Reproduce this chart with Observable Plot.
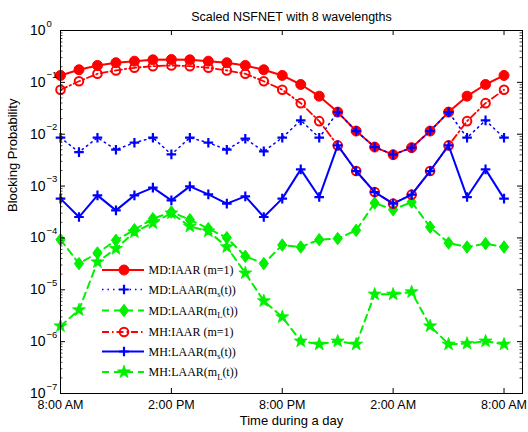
<!DOCTYPE html>
<html>
<head>
<meta charset="utf-8">
<script src="https://cdn.jsdelivr.net/npm/d3@7"></script>
<script src="https://cdn.jsdelivr.net/npm/@observablehq/plot@0.6"></script>
<style>
  html, body { margin: 0; padding: 0; background: #fff; }
  svg { font-family: "Liberation Sans", Arial, sans-serif; }
</style>
</head>
<body>
<div id="chart"></div>
<script>
// ---- data ----
const hours = [0,1,2,3,4,5,6,7,8,9,10,11,12,13,14,15,16,17,18,19,20,21,22,23,24];
const xTicks = [0, 6, 12, 18, 24];
const xTickLabels = ["8:00 AM", "2:00 PM", "8:00 PM", "2:00 AM", "8:00 AM"];
const yMajor = [1e-7, 1e-6, 1e-5, 1e-4, 1e-3, 1e-2, 1e-1, 1];
const yExponents = ["\u22127", "\u22126", "\u22125", "\u22124", "\u22123", "\u22122", "\u22121", "0"];

const mdIAAR   = [0.136,0.175,0.212,0.239,0.256,0.272,0.276,0.272,0.256,0.239,0.212,0.175,0.136,0.091,0.0542,0.0267,0.0115,0.00565,0.00403,0.0055,0.0115,0.0267,0.0542,0.091,0.136];
const mdLAARms = [0.00857,0.00452,0.00857,0.00503,0.00686,0.00857,0.00408,0.00857,0.00686,0.00503,0.00819,0.00466,0.00857,0.01845,0.00857,0.0267,0.0115,0.00565,0.00403,0.0055,0.0115,0.0267,0.00857,0.01845,0.00857];
const mdLAARmL = [9.27e-5,3.2e-5,5.12e-5,8.99e-5,1.44e-4,2.35e-4,3.16e-4,2.25e-4,1.51e-4,1.01e-4,4.42e-5,3.2e-5,7.3e-5,6.68e-5,9.27e-5,9.7e-5,1.4e-4,4.7e-4,3.5e-4,4.92e-4,1.62e-4,7.98e-5,6.68e-5,7.76e-5,6.68e-5];
const mhIAAR   = [0.072,0.105,0.1465,0.170,0.191,0.205,0.212,0.205,0.191,0.170,0.1465,0.105,0.072,0.0397,0.01787,0.00608,0.00195,0.000766,0.000458,0.000683,0.00195,0.00608,0.01787,0.0397,0.072];
const mhLAARms = [0.000572,0.000253,0.000662,0.00034,0.000662,0.000932,0.00053,0.000987,0.000692,0.000458,0.000634,0.000253,0.000572,0.0021,0.000614,0.00608,0.00195,0.000766,0.000458,0.000683,0.00195,0.00608,0.000614,0.0021,0.000572];
const mhLAARmL = [2.0e-6,4.08e-6,3.43e-5,6.2e-5,1.3e-4,1.94e-4,3.0e-4,1.67e-4,1.35e-4,6.7e-5,2.1e-5,6.1e-6,2.99e-6,1.02e-6,8.9e-7,1.02e-6,8.9e-7,8.2e-6,8.2e-6,9.08e-6,2.0e-6,8.9e-7,9.2e-7,1.02e-6,8.9e-7];

// ---- symbols ----
const rOf = (size) => Math.sqrt(size / Math.PI);
const circleSym = { draw(c, size) { const r = rOf(size); c.moveTo(r, 0); c.arc(0, 0, r, 0, 2 * Math.PI); } };
const plusSym = { draw(c, size) { const r = rOf(size); c.moveTo(-r, 0); c.lineTo(r, 0); c.moveTo(0, -r); c.lineTo(0, r); } };
const diamondSym = { draw(c, size) { const r = rOf(size); c.moveTo(0, -1.35 * r); c.lineTo(r, 0); c.lineTo(0, 1.35 * r); c.lineTo(-r, 0); c.closePath(); } };
const starSym = { draw(c, size) {
  const R = rOf(size), ri = R * 0.4;
  for (let k = 0; k < 10; k++) {
    const a = -Math.PI / 2 + k * Math.PI / 5, rr = k % 2 ? ri : R;
    const px = rr * Math.cos(a), py = rr * Math.sin(a);
    k ? c.lineTo(px, py) : c.moveTo(px, py);
  }
  c.closePath();
} };

const RED = "#ff0000", BLUE = "#0000ff", GREEN = "#00f000";
const series = [
  { label: ["MD:IAAR (m=1)"], values: mdIAAR, color: RED, width: 2, dash: null, sym: circleSym, r: 5, fill: RED, sw: 1 },
  { label: ["MD:LAAR(m", "s", "(t))"], values: mdLAARms, color: BLUE, width: 1.5, dash: "1.5,4", sym: plusSym, r: 4.8, fill: "none", sw: 2.2 },
  { label: ["MD:LAAR(m", "L", "(t))"], values: mdLAARmL, color: GREEN, width: 2, dash: "7,5", sym: diamondSym, r: 4.6, fill: GREEN, sw: 1 },
  { label: ["MH:IAAR (m=1)"], values: mhIAAR, color: RED, width: 1.8, dash: "7,3,1.5,3", sym: circleSym, r: 4.3, fill: "none", sw: 2 },
  { label: ["MH:LAAR(m", "s", "(t))"], values: mhLAARms, color: BLUE, width: 2, dash: null, sym: plusSym, r: 4.8, fill: "none", sw: 2.2 },
  { label: ["MH:LAAR(m", "L", "(t))"], values: mhLAARmL, color: GREEN, width: 2, dash: "7,5", sym: starSym, r: 6.8, fill: GREEN, sw: 0.8 }
];

// ---- layout ----
const W = 528, H = 432, mT = 30, mB = 39, mL = 60, mR = 6;
const plotW = W - mL - mR, plotH = H - mT - mB;
const yMinor = [];
for (let k = -7; k < 0; k++) for (let m = 2; m <= 9; m++) yMinor.push(m * Math.pow(10, k));

const marks = [];
for (const s of series) {
  const data = hours.map((h, i) => ({ h, v: s.values[i] }));
  marks.push(Plot.line(data, { x: "h", y: "v", stroke: s.color, strokeWidth: s.width, strokeDasharray: s.dash }));
  marks.push(Plot.dot(data, { x: "h", y: "v", symbol: s.sym, r: s.r, fill: s.fill, stroke: s.color, strokeWidth: s.sw }));
}

const chart = Plot.plot({
  width: W, height: H,
  marginTop: mT, marginBottom: mB, marginLeft: mL, marginRight: mR,
  x: { domain: [0, 25], axis: null },
  y: { type: "log", domain: [1e-7, 1], axis: null },
  style: { fontFamily: "Liberation Sans, Arial, sans-serif", background: "white" },
  marks: [
    ...marks,
    Plot.frame({ stroke: "black", strokeWidth: 1 }),
    // inward ticks
    Plot.ruleY(yMajor, { y: d => d, insetRight: plotW - 5, stroke: "black" }),
    Plot.ruleY(yMajor, { y: d => d, insetLeft: plotW - 5, stroke: "black" }),
    Plot.ruleY(yMinor, { y: d => d, insetRight: plotW - 2.5, stroke: "black", strokeWidth: 0.7 }),
    Plot.ruleY(yMinor, { y: d => d, insetLeft: plotW - 2.5, stroke: "black", strokeWidth: 0.7 }),
    Plot.ruleX(xTicks, { x: d => d, insetTop: plotH - 5, stroke: "black" }),
    Plot.ruleX(xTicks, { x: d => d, insetBottom: plotH - 5, stroke: "black" }),
    // y tick labels
    Plot.text(yMajor, { y: d => d, text: () => "10", frameAnchor: "left", textAnchor: "end", dx: -15, fontSize: 14, fill: "black" }),
    Plot.text(yMajor, { y: d => d, text: (d, i) => yExponents[i], frameAnchor: "left", textAnchor: "start", dx: -14, dy: -7, fontSize: 9.5, fill: "black" }),
    // x tick labels
    Plot.axisX({ ticks: xTicks, tickFormat: d => xTickLabels[xTicks.indexOf(d)], tickSize: 0, tickPadding: 7, fontSize: 12.5, label: null, fill: "black" }),
    // titles
    Plot.text(["Scaled NSFNET with 8 wavelengths"], { text: d => d, frameAnchor: "top", dy: -18, fontSize: 12.5, fill: "black" }),
    Plot.text(["Time during a day"], { text: d => d, frameAnchor: "bottom", dy: 31, fontSize: 13, fill: "black" }),
    Plot.text(["Blocking Probability"], { text: d => d, frameAnchor: "left", dx: -48, rotate: -90, fontSize: 13, fill: "black" })
  ]
});

// ---- legend ----
const svg = d3.select(chart.tagName.toLowerCase() === "svg" ? chart : chart.querySelector("svg"));
const legendRows = [270, 289.5, 310.5, 332, 351.5, 372];
const lg = svg.append("g").attr("class", "legend").attr("text-anchor", "start");
series.forEach((s, i) => {
  const y = legendRows[i];
  const g = lg.append("g");
  g.append("line").attr("x1", 102).attr("x2", 144).attr("y1", y).attr("y2", y)
    .attr("stroke", s.color).attr("stroke-width", s.width).attr("stroke-dasharray", s.dash);
  g.append("path").attr("transform", `translate(124,${y})`)
    .attr("d", d3.symbol().type(s.sym).size(Math.PI * s.r * s.r)())
    .attr("fill", s.fill).attr("stroke", s.color).attr("stroke-width", s.sw);
  const t = g.append("text").attr("x", 148.5).attr("y", y).attr("dy", "0.35em")
    .attr("text-anchor", "start")
    .attr("font-family", "Liberation Serif, Times New Roman, serif").attr("font-size", 12).attr("fill", "black");
  if (s.label.length === 1) {
    t.text(s.label[0]);
  } else {
    t.append("tspan").text(s.label[0]);
    t.append("tspan").attr("dy", 3.5).attr("font-size", 8.5).text(s.label[1]);
    t.append("tspan").attr("dy", -3.5).text(s.label[2]);
  }
});

document.getElementById("chart").appendChild(chart);
</script>
</body>
</html>
